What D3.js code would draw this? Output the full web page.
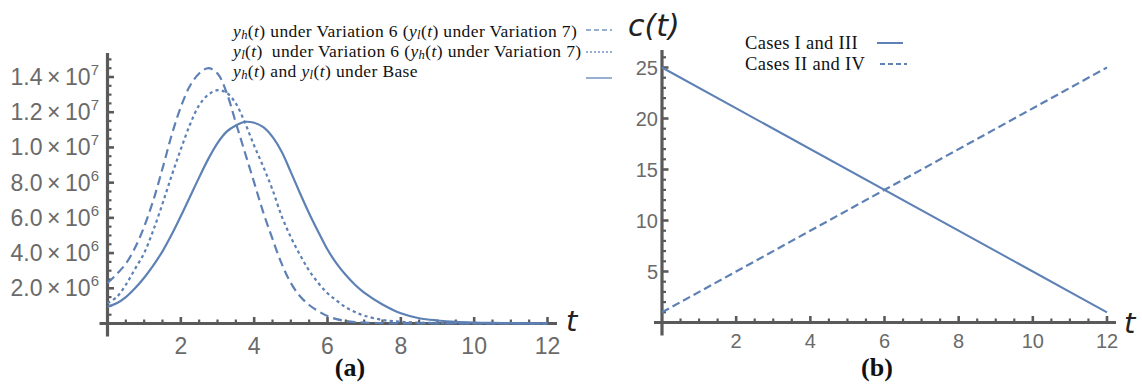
<!DOCTYPE html>
<html><head><meta charset="utf-8">
<script src="https://cdn.jsdelivr.net/npm/d3@7"></script>
<style>body{margin:0;background:#fff}</style>
</head><body>
<svg id="c" width="1142" height="387"></svg>
<script>
// ---------- DATA ----------
// time grid (panel a)
const tGrid = [0,0.25,0.5,0.75,1,1.25,1.5,1.75,2,2.25,2.5,2.75,3,3.25,3.5,3.75,4,4.25,4.5,4.75,5,5.25,5.5,5.75,6,6.25,6.5,6.75,7,
               7.5,8,8.5,9,9.5,10,10.5,11,11.5,12];
// values in millions (x 10^6)
const yhVar6 = [2.3,2.8,3.4,4.3,5.5,7.0,8.8,10.7,12.3,13.5,14.2,14.5,14.2,13.1,11.4,9.7,8.0,6.3,4.8,3.4,2.3,1.55,1.05,0.7,0.42,0.25,0.14,0.08,0.05,
                0.02,0.01,0.005,0,0,0,0,0,0,0];
const ylVar6 = [1.15,1.5,2.2,3.1,4.0,5.3,6.8,8.4,9.9,11.3,12.4,13.0,13.25,13.1,12.5,11.4,10.1,8.9,7.6,6.1,4.9,3.9,3.0,2.3,1.72,1.3,0.92,0.65,0.45,
                0.2,0.1,0.05,0.03,0.015,0.01,0,0,0,0];
const baseY  = [0.95,1.15,1.5,2.0,2.6,3.3,4.1,5.05,6.1,7.2,8.3,9.35,10.25,10.9,11.25,11.45,11.4,11.15,10.6,9.75,8.6,7.4,6.25,5.2,4.2,3.4,2.75,2.2,1.75,
                1.08,0.58,0.3,0.17,0.09,0.05,0.03,0.02,0.01,0.01];
const UNIT = 1e6;
const aXTicks = [2,4,6,8,10,12];
const aYTicks = [2e6,4e6,6e6,8e6,1e7,1.2e7,1.4e7];

// panel b
const bT = [0, 12];
const casesI_III = [25, 1];
const casesII_IV = [1, 25];
const bXTicks = [2,4,6,8,10,12];
const bYTicks = [5,10,15,20,25];

// ---------- DRAW ----------
const svg = d3.select("#c");
svg.append("rect").attr("width",1142).attr("height",387).attr("fill","#fff");
const BLUE = "#5E81B5", AX = "#5a5a5a", TXT = "#6a6a6a";

function drawAxes(g, x, y, o){
  g.append("line").attr("x1",x(0)-8).attr("x2",o.xEnd).attr("y1",y(0)).attr("y2",y(0))
    .attr("stroke",AX).attr("stroke-width",3.2);
  g.append("line").attr("x1",x(0)).attr("x2",x(0)).attr("y1",o.yTop).attr("y2",y(0)+13)
    .attr("stroke",AX).attr("stroke-width",3.2);
  o.xMinor.forEach(v=>{
    const major = o.xTicks.includes(v);
    g.append("line").attr("x1",x(v)).attr("x2",x(v)).attr("y1",y(0)).attr("y2",y(0)-(major?6.5:4))
      .attr("stroke",AX).attr("stroke-width",major?2.6:2.2);
  });
  o.yMinor.forEach(v=>{
    const major = o.yTicks.includes(v);
    g.append("line").attr("y1",y(v)).attr("y2",y(v)).attr("x1",x(0)).attr("x2",x(0)+(major?6.5:4))
      .attr("stroke",AX).attr("stroke-width",major?2.6:2.2);
  });
  o.xTicks.forEach(v=>{
    g.append("text").attr("x",x(v)).attr("y",o.xLabY).attr("text-anchor","middle")
      .attr("dominant-baseline","central").attr("font-family","Liberation Sans, Arial, sans-serif")
      .attr("font-size",o.fs).attr("fill",TXT).text(v);
  });
}

// ----- panel (a)
const xa = d3.scaleLinear().domain([0,12]).range([107.5,547.5]);
const ya = d3.scaleLinear().domain([0,1.4e7]).range([323.5,77]);
const ga = svg.append("g");
drawAxes(ga, xa, ya, {
  xEnd:557, yTop:53, xTicks:aXTicks, yTicks:aYTicks,
  xMinor:d3.range(0.5,12.01,0.5), yMinor:d3.range(5e5,1.5e7+1,5e5).map(v=>Math.round(v)),
  xLabY:346, fs:23
});
aYTicks.forEach(v=>{
  const e = Math.floor(Math.log10(v)+1e-9), m = v/Math.pow(10,e);
  const t = ga.append("text").attr("x",99).attr("y",ya(v)).attr("text-anchor","end")
    .attr("dominant-baseline","central").attr("font-family","Liberation Sans, Arial, sans-serif")
    .attr("font-size",23).attr("fill",TXT);
  t.append("tspan").text(m.toFixed(1)+"\u2009×\u200910");
  t.append("tspan").attr("font-size",15).attr("dy",-8).text(e);
});
const lineA = d3.line().x((d,i)=>xa(tGrid[i])).y(d=>ya(d*UNIT)).curve(d3.curveCatmullRom.alpha(0.5));
const seriesA = [
  {v:yhVar6, dash:"9,5"},
  {v:ylVar6, dash:"3.2,3.2"},
  {v:baseY,  dash:null}
];
seriesA.forEach(s=>{
  ga.append("path").attr("d",lineA(s.v)).attr("fill","none").attr("stroke",BLUE)
    .attr("stroke-width",2.2).attr("stroke-dasharray",s.dash);
});
ga.append("text").attr("x",566).attr("y",331).attr("font-family","DejaVu Sans, sans-serif")
  .attr("font-style","italic").attr("font-size",29).attr("fill","#222").text("t");
ga.append("text").attr("x",350).attr("y",376).attr("text-anchor","middle")
  .attr("font-family","Liberation Serif, Times New Roman, serif").attr("font-weight","bold")
  .attr("font-size",26).attr("fill","#111").text("(a)");

// legend (a)
const legA = [
  {parts:[["y","i"],["h","s"],["(",""],["t","i"],[") under Variation 6 (",""],["y","i"],["l","s"],["(",""],["t","i"],[") under Variation 7)",""]], dash:"5,3", ly:30, ty:31},
  {parts:[["y","i"],["l","s"],["(",""],["t","i"],[")\u2002under Variation 6 (",""],["y","i"],["h","s"],["(",""],["t","i"],[") under Variation 7)",""]], dash:"2,2", ly:52, ty:51},
  {parts:[["y","i"],["h","s"],["(",""],["t","i"],[") and ",""],["y","i"],["l","s"],["(",""],["t","i"],[") under Base",""]], dash:null, ly:78, ty:71}
];
function mathText(g, x, y, parts, fs){
  const t = g.append("text").attr("x",x).attr("y",y).attr("dominant-baseline","central")
    .attr("font-family","Liberation Serif, Times New Roman, serif").attr("font-size",fs)
    .attr("letter-spacing",0.38).attr("fill","#111");
  let shift = 0;
  parts.forEach(([s,st])=>{
    const sp = t.append("tspan").text(s);
    if(st==="i"){ sp.attr("font-style","italic"); }
    if(st==="s"){ sp.attr("font-style","italic").attr("font-size",fs*0.72).attr("dy",4); shift=4; }
    else if(shift){ sp.attr("dy",-shift); shift=0; }
  });
  return t;
}
legA.forEach(r=>{
  mathText(ga, 233, r.ty, r.parts, 17.5);
  ga.append("line").attr("x1",586).attr("x2",612).attr("y1",r.ly).attr("y2",r.ly)
    .attr("stroke",BLUE).attr("stroke-width",1.5).attr("stroke-opacity",0.85).attr("stroke-dasharray",r.dash);
});

// ----- panel (b)
const xb = d3.scaleLinear().domain([0,12]).range([662,1107]);
const yb = d3.scaleLinear().domain([0,25]).range([322.5,67.5]);
const gb = svg.append("g");
drawAxes(gb, xb, yb, {
  xEnd:1116, yTop:50, xTicks:bXTicks, yTicks:bYTicks,
  xMinor:d3.range(0.5,12.01,0.5), yMinor:d3.range(1,27,1),
  xLabY:341, fs:20
});
bYTicks.forEach(v=>{
  gb.append("text").attr("x",658).attr("y",yb(v)).attr("text-anchor","end")
    .attr("dominant-baseline","central").attr("font-family","Liberation Sans, Arial, sans-serif")
    .attr("font-size",20).attr("fill",TXT).text(v);
});
const lineB = d3.line().x((d,i)=>xb(bT[i])).y(d=>yb(d));
gb.append("path").attr("d",lineB(casesI_III)).attr("fill","none").attr("stroke",BLUE).attr("stroke-width",2);
gb.append("path").attr("d",lineB(casesII_IV)).attr("fill","none").attr("stroke",BLUE).attr("stroke-width",2.2)
  .attr("stroke-dasharray","8,4");
gb.append("text").attr("x",1124).attr("y",333).attr("font-family","DejaVu Sans, sans-serif")
  .attr("font-style","italic").attr("font-size",29).attr("fill","#222").text("t");
gb.append("text").attr("x",628).attr("y",25).attr("dominant-baseline","central").attr("font-family","DejaVu Sans, sans-serif")
  .attr("font-style","italic").attr("font-size",30).attr("fill","#222").text("c(t)");
gb.append("text").attr("x",877).attr("y",376).attr("text-anchor","middle")
  .attr("font-family","Liberation Serif, Times New Roman, serif").attr("font-weight","bold")
  .attr("font-size",26).attr("fill","#111").text("(b)");
const legB = [
  {label:"Cases I and III", dash:null, y:43, x1:877, x2:903},
  {label:"Cases II and IV", dash:"5,3", y:64, x1:880, x2:907}
];
legB.forEach(r=>{
  gb.append("text").attr("x",745).attr("y",r.y).attr("dominant-baseline","central")
    .attr("font-family","Liberation Serif, Times New Roman, serif").attr("font-size",18.5)
    .attr("letter-spacing",0.3).attr("fill","#111").text(r.label);
  gb.append("line").attr("x1",r.x1).attr("x2",r.x2).attr("y1",r.y).attr("y2",r.y)
    .attr("stroke",BLUE).attr("stroke-width",2).attr("stroke-dasharray",r.dash);
});
</script>
</body></html>
